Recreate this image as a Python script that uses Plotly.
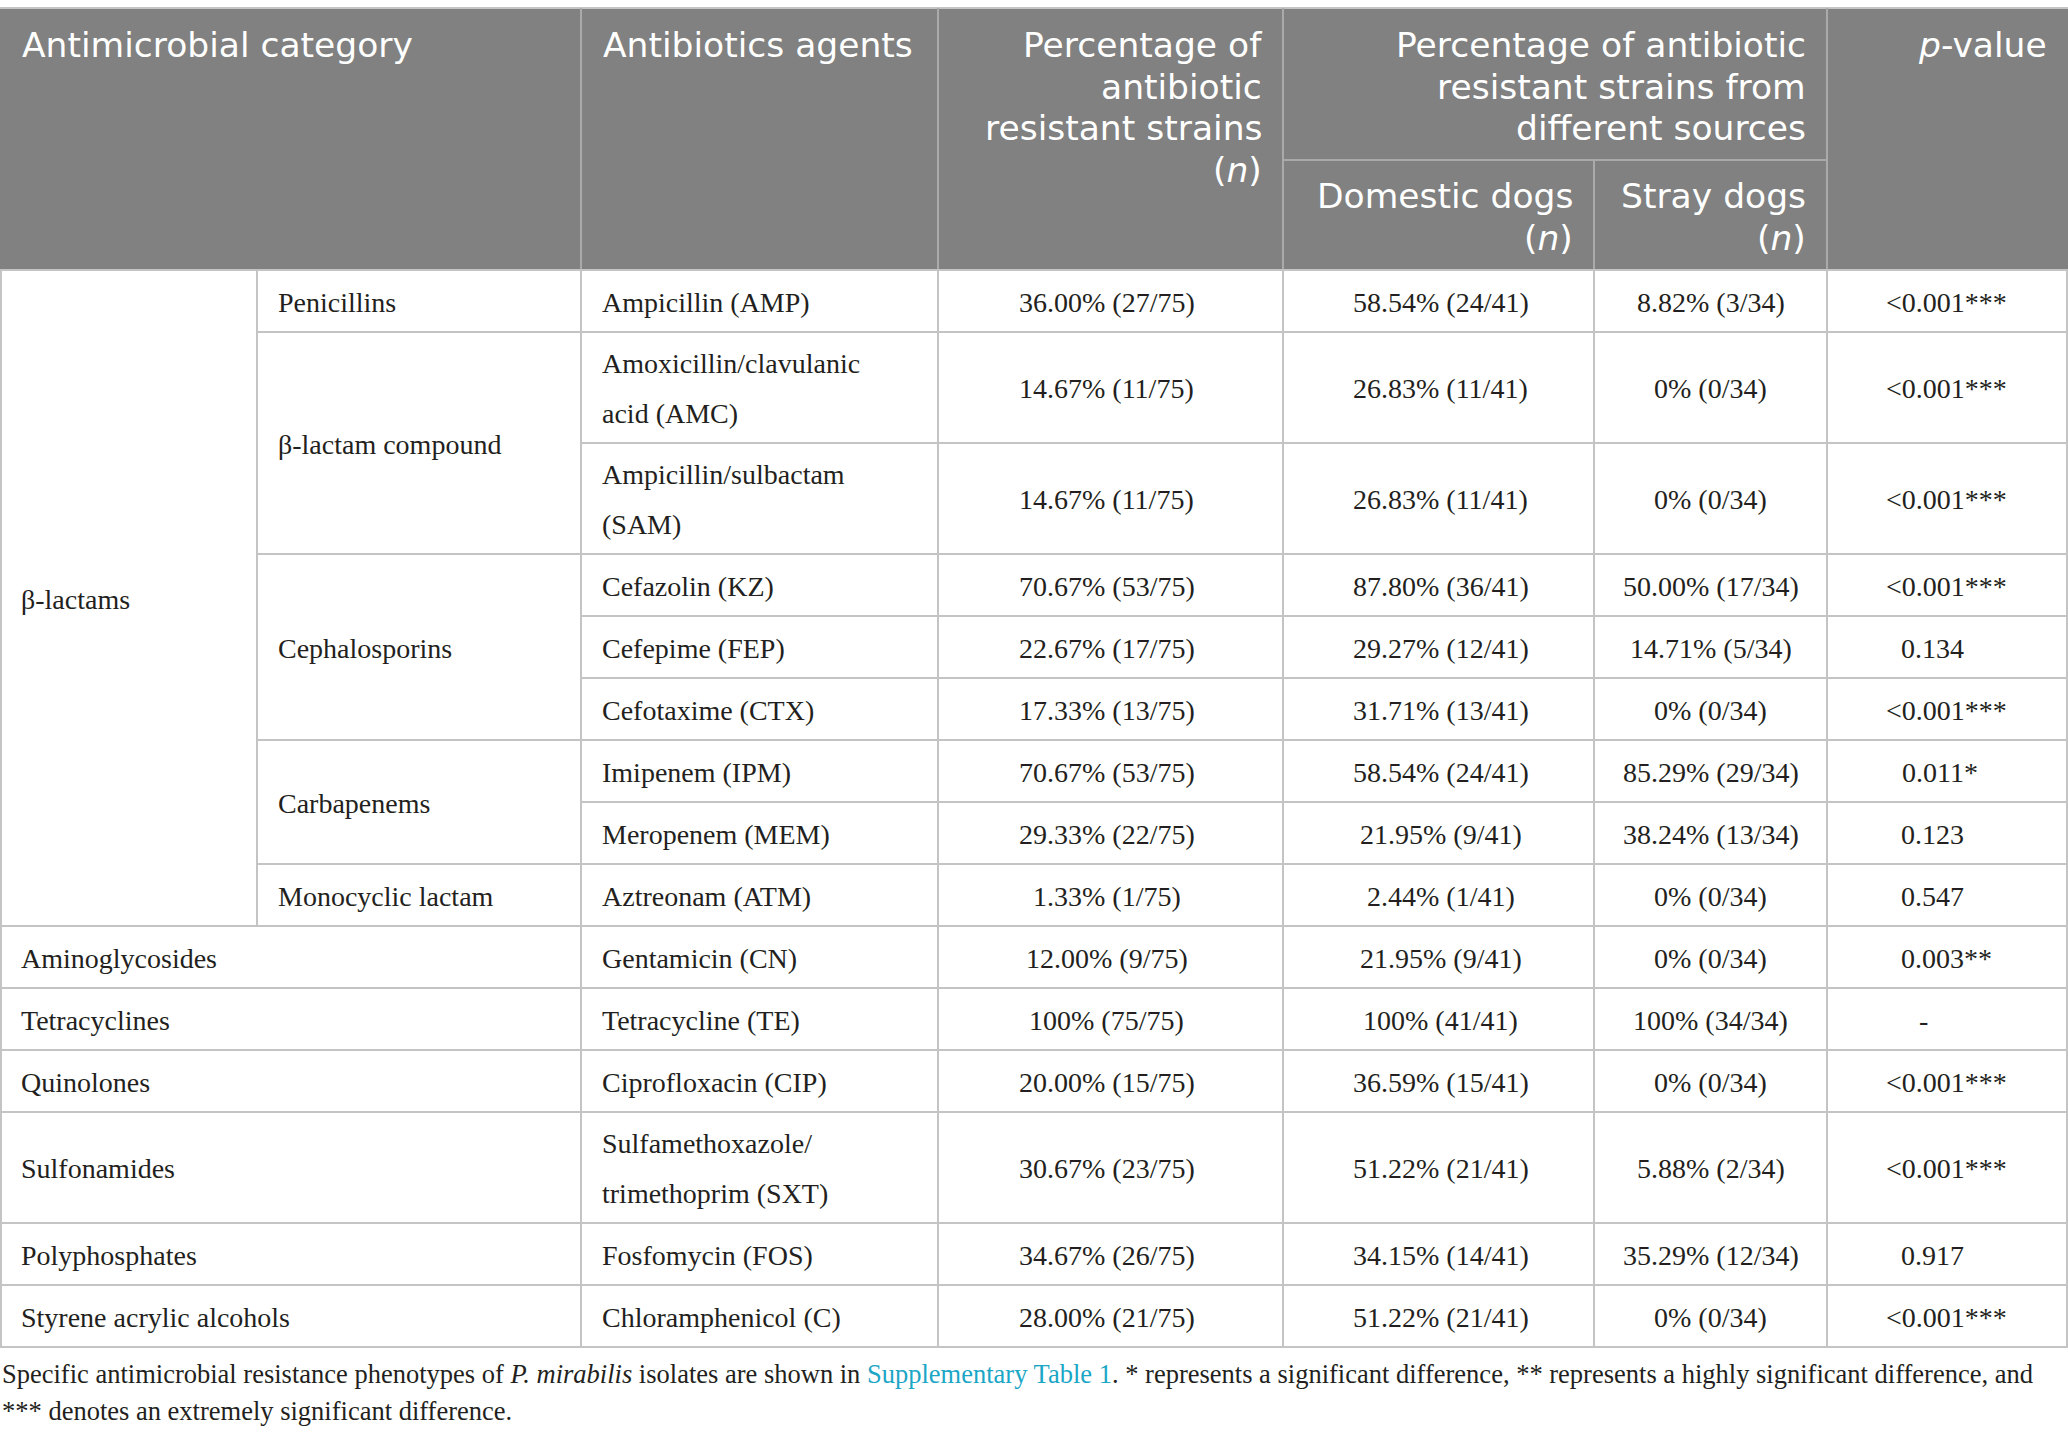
import plotly.graph_objects as go

# ---------------- data ----------------
categories = ["β-lactams"] * 9 + ["Aminoglycosides", "Tetracyclines", "Quinolones",
                                  "Sulfonamides", "Polyphosphates", "Styrene acrylic alcohols"]
subcategories = ["Penicillins", "β-lactam compound", "β-lactam compound",
                 "Cephalosporins", "Cephalosporins", "Cephalosporins",
                 "Carbapenems", "Carbapenems", "Monocyclic lactam",
                 "", "", "", "", "", ""]
agents = ["Ampicillin (AMP)",
          "Amoxicillin/clavulanic\nacid (AMC)",
          "Ampicillin/sulbactam\n(SAM)",
          "Cefazolin (KZ)",
          "Cefepime (FEP)",
          "Cefotaxime (CTX)",
          "Imipenem (IPM)",
          "Meropenem (MEM)",
          "Aztreonam (ATM)",
          "Gentamicin (CN)",
          "Tetracycline (TE)",
          "Ciprofloxacin (CIP)",
          "Sulfamethoxazole/\ntrimethoprim (SXT)",
          "Fosfomycin (FOS)",
          "Chloramphenicol (C)"]
overall = ["36.00% (27/75)", "14.67% (11/75)", "14.67% (11/75)", "70.67% (53/75)",
           "22.67% (17/75)", "17.33% (13/75)", "70.67% (53/75)", "29.33% (22/75)",
           "1.33% (1/75)", "12.00% (9/75)", "100% (75/75)", "20.00% (15/75)",
           "30.67% (23/75)", "34.67% (26/75)", "28.00% (21/75)"]
domestic = ["58.54% (24/41)", "26.83% (11/41)", "26.83% (11/41)", "87.80% (36/41)",
            "29.27% (12/41)", "31.71% (13/41)", "58.54% (24/41)", "21.95% (9/41)",
            "2.44% (1/41)", "21.95% (9/41)", "100% (41/41)", "36.59% (15/41)",
            "51.22% (21/41)", "34.15% (14/41)", "51.22% (21/41)"]
stray = ["8.82% (3/34)", "0% (0/34)", "0% (0/34)", "50.00% (17/34)",
         "14.71% (5/34)", "0% (0/34)", "85.29% (29/34)", "38.24% (13/34)",
         "0% (0/34)", "0% (0/34)", "100% (34/34)", "0% (0/34)",
         "5.88% (2/34)", "35.29% (12/34)", "0% (0/34)"]
p_values = ["&lt;0.001", "&lt;0.001", "&lt;0.001", "&lt;0.001", "0.134", "&lt;0.001",
            "0.011", "0.123", "0.547", "0.003", "-", "&lt;0.001", "&lt;0.001", "0.917", "&lt;0.001"]
p_stars = ["***", "***", "***", "***", "", "***", "*", "", "", "**", "", "***", "***", "", "***"]

header_col1 = "Antimicrobial category"
header_col2 = "Antibiotics agents"
header_col3 = ["Percentage of", "antibiotic", "resistant strains", "(<i>n</i>)"]
header_group = ["Percentage of antibiotic", "resistant strains from", "different sources"]
header_dom = ["Domestic dogs", "(<i>n</i>)"]
header_stray = ["Stray dogs", "(<i>n</i>)"]
header_p = "<i>p</i>-value"

footnote = [
    "Specific antimicrobial resistance phenotypes of <i>P. mirabilis</i> isolates are shown in "
    "<span style='color:#1ba6c6'>Supplementary Table 1</span>. * represents a significant difference, "
    "** represents a highly significant difference, and",
    "*** denotes an extremely significant difference.",
]

# ---------------- layout geometry ----------------
W, H = 2068, 1442
X = [0, 257, 581, 938, 1283, 1594, 1827, 2068]
HEAD_TOP, HEAD_SUB, HEAD_BOT = 8, 160, 270
SINGLE_H, DOUBLE_H = 62, 111
PAD_L = 19
PAD_R = 19

HEAD_BG = "#808180"
HEAD_LINE = "#a9aaa9"
GRID = "#c4c4c4"
TXT = "#231f20"
SERIF = "Liberation Serif"
SANS = "DejaVu Sans"
BODY_FS = 28
HEAD_FS = 34.5
HEAD_LS = 41.5
STAR_W = 14.2     # advance of one asterisk at BODY_FS

fig = go.Figure()
shapes = []
ann = []


def line(x0, y0, x1, y1, color=GRID, w=2):
    shapes.append(dict(type="line", xref="x", yref="y", x0=x0, y0=y0, x1=x1, y1=y1,
                       line=dict(color=color, width=w), layer="above"))


def text(x, y, s, anchor="left", font=SERIF, size=BODY_FS, color=TXT):
    ann.append(dict(x=x, y=y, xref="x", yref="y", text=s, showarrow=False,
                    xanchor=anchor, yanchor="middle", align=anchor,
                    font=dict(family=font, size=size, color=color)))


hw = dict(font=SANS, size=HEAD_FS, color="white")


def head_lines(x, y_first, lines, anchor="right"):
    for k, s in enumerate(lines):
        text(x, y_first + k * HEAD_LS, s, anchor=anchor, **hw)


# header background
shapes.append(dict(type="rect", xref="x", yref="y", x0=X[0], x1=X[-1], y0=HEAD_TOP, y1=HEAD_BOT,
                   fillcolor=HEAD_BG, line=dict(width=0), layer="below"))
line(X[0], HEAD_TOP, X[-1], HEAD_TOP, GRID)
for xv in [X[2], X[3], X[4], X[6]]:
    line(xv, HEAD_TOP, xv, HEAD_BOT, HEAD_LINE)
line(X[4], HEAD_SUB, X[6], HEAD_SUB, HEAD_LINE)
line(X[5], HEAD_SUB, X[5], HEAD_BOT, HEAD_LINE)

# header text
hy0 = 45
text(X[0] + PAD_L + 1, hy0, header_col1, **hw)
text(X[2] + PAD_L + 1, hy0, header_col2, **hw)
head_lines(X[4] - PAD_R, hy0, header_col3)
head_lines(X[6] - PAD_R, hy0, header_group)
head_lines(X[5] - PAD_R, 196, header_dom)
head_lines(X[6] - PAD_R, 196, header_stray)
text(X[7] - PAD_R, hy0, header_p, anchor="right", **hw)

# body rows
n = len(agents)
heights = [DOUBLE_H if "\n" in a else SINGLE_H for a in agents]
tops = [HEAD_BOT]
for h in heights:
    tops.append(tops[-1] + h)
centers = [(tops[i] + tops[i + 1]) / 2 for i in range(n)]

# horizontal lines between rows
line(X[0], HEAD_BOT, X[-1], HEAD_BOT)
for i in range(1, n):
    if categories[i] != categories[i - 1]:
        x0 = X[0]
    elif subcategories[i] != subcategories[i - 1]:
        x0 = X[1]
    else:
        x0 = X[2]
    line(x0, tops[i], X[-1], tops[i])
line(X[0], tops[n], X[-1], tops[n])

# vertical lines
line(X[0] + 1, HEAD_BOT, X[0] + 1, tops[n])
line(X[-1] - 1, HEAD_BOT, X[-1] - 1, tops[n])
for xv in X[2:7]:
    line(xv, HEAD_BOT, xv, tops[n])
sub_rows = [i for i in range(n) if subcategories[i]]
line(X[1], tops[sub_rows[0]], X[1], tops[sub_rows[-1] + 1])

# category text (merged groups)
i = 0
while i < n:
    j = i
    while j + 1 < n and categories[j + 1] == categories[i]:
        j += 1
    text(X[0] + PAD_L, (tops[i] + tops[j + 1]) / 2 + 1, categories[i])
    i = j + 1

# sub-category text
i = 0
while i < n:
    if not subcategories[i]:
        i += 1
        continue
    j = i
    while j + 1 < n and subcategories[j + 1] == subcategories[i]:
        j += 1
    text(X[1] + PAD_L, (tops[i] + tops[j + 1]) / 2 + 1, subcategories[i])
    i = j + 1

LINE_GAP = 50
P_EDGE = 1966
for i in range(n):
    cy = centers[i] + 1
    parts = agents[i].split("\n")
    k = len(parts)
    for m, p in enumerate(parts):
        text(X[2] + PAD_L, cy + (m - (k - 1) / 2) * LINE_GAP, p)
    text((X[3] + X[4]) / 2 - 4, cy, overall[i], anchor="center")
    text((X[4] + X[5]) / 2 + 2, cy, domestic[i], anchor="center")
    text((X[5] + X[6]) / 2, cy, stray[i], anchor="center")
    if p_values[i] == "-":
        text(1923, cy, p_values[i], anchor="center")
    else:
        text(P_EDGE + STAR_W * len(p_stars[i]), cy, p_values[i] + p_stars[i], anchor="right")

# footnote
for k, s in enumerate(footnote):
    text(0, 1374 + k * 37, s, size=26.5)

fig.update_layout(
    width=W, height=H,
    margin=dict(l=0, r=0, t=0, b=0),
    paper_bgcolor="white", plot_bgcolor="white",
    xaxis=dict(range=[0, W], visible=False, fixedrange=True),
    yaxis=dict(range=[H, 0], visible=False, fixedrange=True),
    shapes=shapes, annotations=ann, showlegend=False,
)

fig.write_html("out.html", config={"displayModeBar": False},
               post_script="document.body.style.margin='0';document.body.style.overflow='hidden';")
